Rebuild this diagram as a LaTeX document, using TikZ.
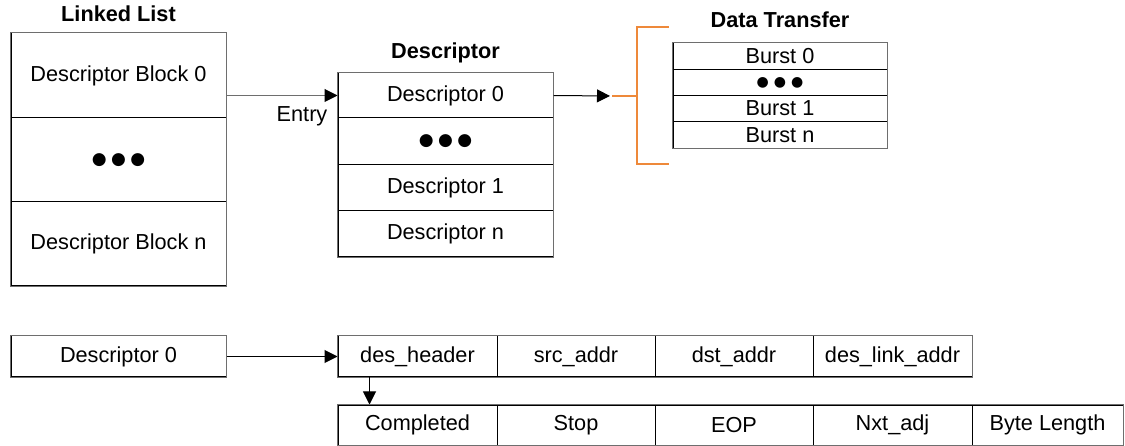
\documentclass[tikz,border=0pt]{standalone}
\usepackage{fontspec}
\setmainfont{Liberation Sans}
\newfontfamily\djv{DejaVu Sans}
\usetikzlibrary{arrows.meta}
\definecolor{bracketorange}{RGB}{238,137,58}
\definecolor{edgegray}{RGB}{110,110,110}
\newcommand{\dotrow}[2]{{\djv\fontsize{#1}{#1}\selectfont ●\kern#2●\kern#2●}}
\begin{document}
\begin{tikzpicture}[x=1pt,y=-1pt,line width=1pt,
  cell/.style={draw=black,inner sep=0pt,align=center,font=\fontsize{21.7}{25}\selectfont},
  title/.style={inner sep=0pt,font=\fontsize{21.7}{25}\selectfont\bfseries},
  lbl/.style={inner sep=0pt,font=\fontsize{21.7}{25}\selectfont},
  outline/.style={draw=edgegray},
  arr/.style={-{Triangle[length=13pt,width=13pt,color=black]}},
  brk/.style={draw=bracketorange,line width=1.3pt}]
\useasboundingbox (0,0) rectangle (1125,446);
% Linked list
\node[title] (tll) at (118.5,14) {Linked List};
\node[cell,minimum width=215pt,minimum height=85pt] (ll0) at (118.5,75.5) {Descriptor Block 0};
\node[cell,minimum width=215pt,minimum height=84pt] (lld) at (118.5,160) {\dotrow{17}{4.5pt}};
\node[cell,minimum width=215pt,minimum height=84pt] (lln) at (118.5,244) {Descriptor Block n};
\draw[outline] (ll0.north west) rectangle (lln.south east);
% Descriptor
\node[title] (tds) at (445.5,53) {Descriptor};
\node[cell,minimum width=215pt,minimum height=45pt] (d0) at (445.5,95.5) {Descriptor 0};
\node[cell,minimum width=215pt,minimum height=47pt] (dd) at (445.5,141.5) {\dotrow{17}{4.5pt}};
\node[cell,minimum width=215pt,minimum height=46pt] (d1) at (445.5,188) {Descriptor 1};
\node[cell,minimum width=215pt,minimum height=46pt] (dn) at (445.5,234) {Descriptor n};
\draw[outline] (d0.north west) rectangle (dn.south east);
% Entry arrow
\draw[arr,draw=edgegray] (ll0.east |- d0.west) -- (d0.west);
\node[lbl] (entry) at (302,116) {Entry};
% Data transfer
\node[title] (tdt) at (780,20) {Data Transfer};
\node[cell,minimum width=214pt,minimum height=26.25pt] (b0) at (780,56.1) {Burst 0};
\node[cell,minimum width=214pt,minimum height=26.25pt] (bd) at (780,82.4) {\dotrow{14}{5pt}};
\node[cell,minimum width=214pt,minimum height=26.25pt] (b1) at (780,108.6) {Burst 1};
\node[cell,minimum width=214pt,minimum height=26.25pt] (bn) at (780,134.9) {Burst n};
\draw[outline] (b0.north west) rectangle (bn.south east);
% arrow to bracket
\coordinate (brin) at (612,96);
\coordinate (brmid) at (637,96);
\coordinate (brtop) at (637,27);
\coordinate (brbot) at (637,164);
\coordinate (brtopend) at (669,27);
\coordinate (brbotend) at (669,164);
\draw[arr] (d0.east) -- ([xshift=-2pt]brin);
\draw[brk] (brin) -- (brmid);
\draw[brk] (brtopend) -- (brtop) -- (brbot) -- (brbotend);
% Bottom: descriptor 0 fields
\node[cell,minimum width=215pt,minimum height=41pt] (bd0) at (118.5,356.5) {Descriptor 0};
\draw[outline] (bd0.north west) rectangle (bd0.south east);
\node[cell,minimum width=159pt,minimum height=41pt] (dh) at (417.5,356.5) {des\_header};
\node[cell,minimum width=158pt,minimum height=41pt] (sa) at (576,356.5) {src\_addr};
\node[cell,minimum width=158pt,minimum height=41pt] (da) at (734,356.5) {dst\_addr};
\node[cell,minimum width=159pt,minimum height=41pt] (la) at (892.5,356.5) {des\_link\_addr};
\draw[outline] (dh.north west) rectangle (la.south east);
\draw[arr] (bd0.east) -- (dh.west);
% header bits
\node[cell,minimum width=159pt,minimum height=40pt] (cp) at (417.5,425) {Completed};
\node[cell,minimum width=158pt,minimum height=40pt] (st) at (576,425) {Stop};
\node[cell,minimum width=158pt,minimum height=40pt] (eo) at (734,425) {EOP};
\node[cell,minimum width=159pt,minimum height=40pt] (nx) at (892.5,425) {Nxt\_adj};
\node[cell,minimum width=151pt,minimum height=40pt] (bl) at (1047.5,425) {Byte Length};
\draw[outline] (cp.north west) rectangle (bl.south east);
\draw[arr] ([xshift=32pt]dh.south west) -- ([xshift=32pt]cp.north west);
\end{tikzpicture}
\end{document}
